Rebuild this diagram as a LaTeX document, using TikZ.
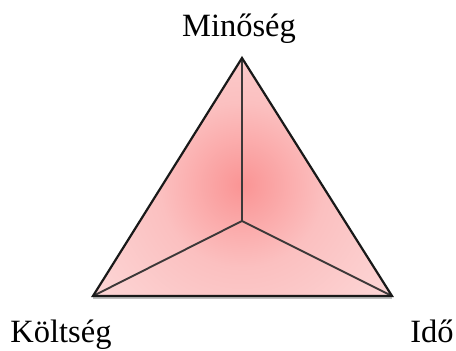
\documentclass[tikz,border=0pt]{standalone}
\usepackage{fontspec}
\setmainfont{Liberation Serif}
\definecolor{pinkin}{RGB}{250,148,148}
\definecolor{pinkmid}{RGB}{251,192,192}
\definecolor{pinkout}{RGB}{253,230,230}
\definecolor{edgecol}{RGB}{25,25,25}
\definecolor{spokecol}{RGB}{60,56,56}
\pgfdeclareradialshading{triglow}{\pgfpoint{0bp}{0bp}}{%
  color(0bp)=(pinkin); color(9bp)=(pinkmid); color(28bp)=(pinkout); color(50bp)=(pinkout)}
\tikzset{
  lbl/.style={font=\fontsize{32.5}{36}\selectfont, anchor=base, inner sep=0pt},
  edge/.style={draw=edgecol, line width=2.2pt, line join=miter},
  spoke/.style={draw=spokecol, line width=1.9pt},
}
\begin{document}
\begin{tikzpicture}[x=1pt,y=1pt]
\useasboundingbox (0,0) rectangle (456,351);
\coordinate (T) at (242,293);
\coordinate (L) at (93,55);
\coordinate (R) at (392,55);
\coordinate (C) at (242,130);
% soft shadow
\draw[black!25, line width=2.5pt] ([yshift=-2pt]L) -- ([yshift=-2pt]R);
\begin{scope}
  \clip (T) -- (L) -- (R) -- cycle;
  \shade[shading=triglow] (242,166) circle (230);
\end{scope}
\draw[spoke] (C) -- (T);
\draw[spoke] (C) -- (L);
\draw[spoke] (C) -- (R);
\draw[edge] (T) -- (L) -- (R) -- cycle;
\node[lbl] (q) at (239,314) {Minőség};
\node[lbl] (k) at (61,8) {Költség};
\node[lbl] (i) at (432,8) {Idő};
\end{tikzpicture}
\end{document}
